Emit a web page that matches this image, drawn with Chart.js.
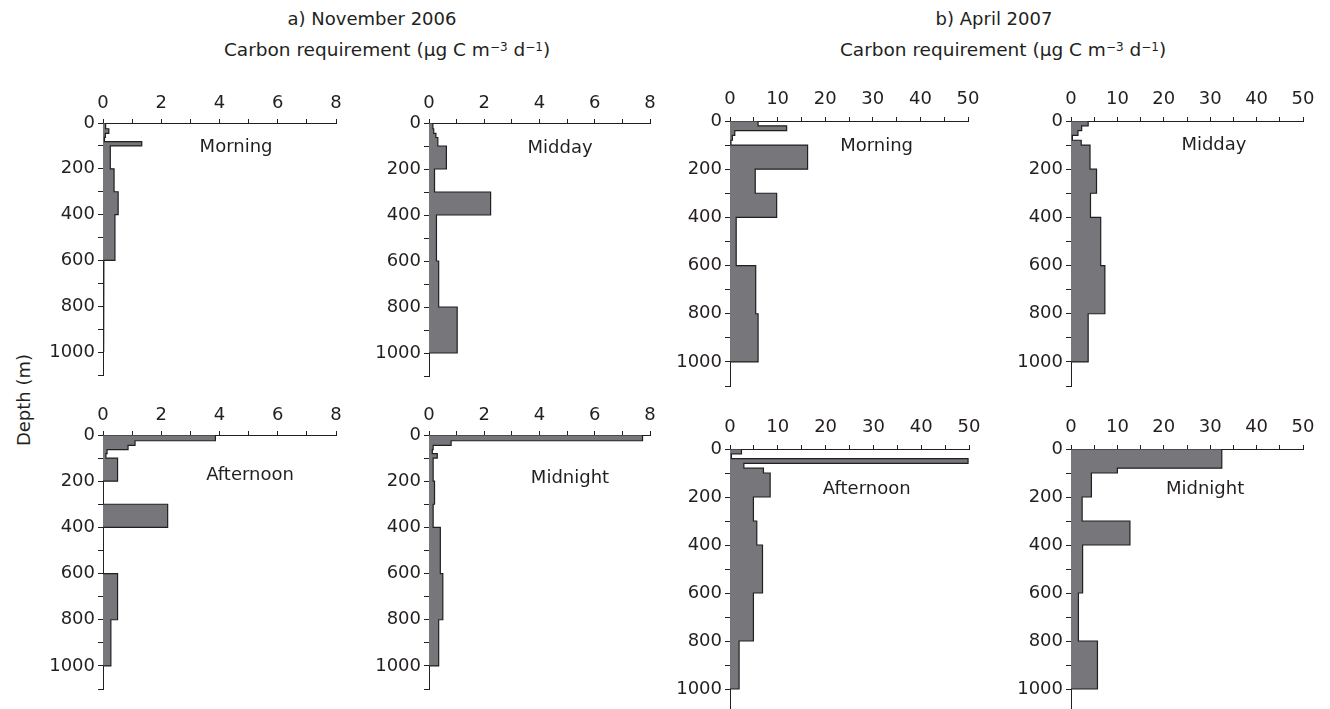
<!DOCTYPE html>
<html>
<head>
<meta charset="utf-8">
<title>Carbon requirement profiles</title>
<script src="https://cdn.jsdelivr.net/npm/chart.js@4.4.1/dist/chart.umd.min.js"></script>
<style>
  html, body {
    margin: 0; padding: 0; background: #fff;
    width: 1330px; height: 709px; overflow: hidden; position: relative;
    font-family: "DejaVu Sans", sans-serif; color: #231f20;
  }
  canvas.panel { position: absolute; }
  .title {
    position: absolute; font-size: 18px; white-space: nowrap;
    transform: translate(-50%, -50%); line-height: 1;
  }
  .title.unit { font-size: 18.5px; }
  .title sup { font-size: 12px; position: relative; top: -0.45em; vertical-align: baseline; line-height: 0; }
  #depth-label {
    position: absolute; left: 24px; top: 400px; font-size: 18px; white-space: nowrap;
    transform: translate(-50%, -50%) rotate(-90deg); line-height: 1;
  }
</style>
</head>
<body>
<div class="title" style="left:372px;top:19px;">a) November 2006</div>
<div class="title unit" style="left:387px;top:50px;">Carbon requirement (µg C m<sup>−3</sup> d<sup>−1</sup>)</div>
<div class="title" style="left:994px;top:19px;">b) April 2007</div>
<div class="title unit" style="left:1003px;top:50px;">Carbon requirement (µg C m<sup>−3</sup> d<sup>−1</sup>)</div>
<div id="depth-label">Depth (m)</div>

<canvas class="panel" id="nov-morning"></canvas>
<canvas class="panel" id="nov-midday"></canvas>
<canvas class="panel" id="nov-afternoon"></canvas>
<canvas class="panel" id="nov-midnight"></canvas>
<canvas class="panel" id="apr-morning"></canvas>
<canvas class="panel" id="apr-midday"></canvas>
<canvas class="panel" id="apr-afternoon"></canvas>
<canvas class="panel" id="apr-midnight"></canvas>

<script>
// Depth layer boundaries (m) for each cruise
const novDepthEdges = [0, 25, 45, 63, 81, 100, 200, 300, 400, 600, 800, 1000];
const aprDepthEdges = [0, 20, 40, 60, 80, 100, 200, 300, 400, 600, 800, 1000];

// Carbon requirement per layer (µg C m-3 d-1), November 2006
const novMorning   = [0.09, 0.20, 0.08, 0.05, 1.33, 0.25, 0.38, 0.52, 0.41, 0.03, 0.03];
const novMidday    = [0.14, 0.17, 0.25, 0.32, 0.32, 0.63, 0.20, 2.23, 0.27, 0.35, 1.02];
const novAfternoon = [3.86, 1.10, 0.86, 0.14, 0.10, 0.50, 0.01, 2.22, 0.01, 0.50, 0.27];
const novMidnight  = [7.73, 0.80, 0.15, 0.12, 0.30, 0.15, 0.20, 0.15, 0.41, 0.50, 0.35];

// Carbon requirement per layer (µg C m-3 d-1), April 2007
const aprMorning   = [5.9, 11.9, 1.0, 0.5, 0.2, 16.3, 5.3, 9.8, 1.3, 5.4, 5.9];
const aprMidday    = [3.7, 2.3, 1.5, 0.3, 2.2, 4.1, 5.5, 4.2, 6.4, 7.3, 3.7];
const aprAfternoon = [2.4, 0.3, 49.8, 2.9, 7.0, 8.4, 4.9, 5.6, 6.8, 4.9, 1.9];
const aprMidnight  = [32.5, 32.5, 32.5, 32.5, 10.0, 4.4, 2.4, 12.7, 2.5, 1.6, 5.7];

// Tick labels
const novCarbonTicks = [0, 2, 4, 6, 8];
const aprCarbonTicks = [0, 10, 20, 30, 40, 50];
const depthTicks = [0, 200, 400, 600, 800, 1000];
const depthAxisMax = 1100;
const depthMinorStep = 100;

const periodNames = ['Morning', 'Midday', 'Afternoon', 'Midnight'];

const INK = '#231f20';
const FILL = '#77767b';
const FONT = { family: '"DejaVu Sans", sans-serif', size: 18 };

// Axis box sizes and panel placement (plot area in page pixels)
const Y_AXIS_W = 60, X_AXIS_H = 40, PAD_R = 22, PAD_B = 14;
const layout = {
  'nov-morning':   { left: 103,  top: 123, width: 233, height: 252, fx: 0.571, fy: 0.095 },
  'nov-midday':    { left: 429,  top: 123, width: 221, height: 253, fx: 0.593, fy: 0.099 },
  'nov-afternoon': { left: 103,  top: 435, width: 233, height: 254, fx: 0.631, fy: 0.157 },
  'nov-midnight':  { left: 429,  top: 435, width: 221, height: 254, fx: 0.638, fy: 0.169 },
  'apr-morning':   { left: 730,  top: 121, width: 238, height: 265, fx: 0.616, fy: 0.094 },
  'apr-midday':    { left: 1071, top: 121, width: 232, height: 265, fx: 0.616, fy: 0.092 },
  'apr-afternoon': { left: 730,  top: 449, width: 239, height: 264, fx: 0.572, fy: 0.152 },
  'apr-midnight':  { left: 1071, top: 449, width: 232, height: 264, fx: 0.578, fy: 0.152 }
};

const panels = [
  { id: 'nov-morning',   values: novMorning,   edges: novDepthEdges, ticks: novCarbonTicks, name: periodNames[0], pad: 5 },
  { id: 'nov-midday',    values: novMidday,    edges: novDepthEdges, ticks: novCarbonTicks, name: periodNames[1], pad: 5 },
  { id: 'nov-afternoon', values: novAfternoon, edges: novDepthEdges, ticks: novCarbonTicks, name: periodNames[2], pad: 5 },
  { id: 'nov-midnight',  values: novMidnight,  edges: novDepthEdges, ticks: novCarbonTicks, name: periodNames[3], pad: 5 },
  { id: 'apr-morning',   values: aprMorning,   edges: aprDepthEdges, ticks: aprCarbonTicks, name: periodNames[0], pad: 7 },
  { id: 'apr-midday',    values: aprMidday,    edges: aprDepthEdges, ticks: aprCarbonTicks, name: periodNames[1], pad: 7 },
  { id: 'apr-afternoon', values: aprAfternoon, edges: aprDepthEdges, ticks: aprCarbonTicks, name: periodNames[2], pad: 7 },
  { id: 'apr-midnight',  values: aprMidnight,  edges: aprDepthEdges, ticks: aprCarbonTicks, name: periodNames[3], pad: 7 }
];

// Step outline of a layered profile: each layer is a block from its top to its bottom depth
function profilePoints(edges, values) {
  const pts = [{ x: 0, y: edges[0] }];
  values.forEach((v, i) => {
    pts.push({ x: v, y: edges[i] }, { x: v, y: edges[i + 1] });
  });
  pts.push({ x: 0, y: edges[edges.length - 1] });
  return pts;
}

// Draws the time-of-day name inside the plot area
const panelLabelPlugin = {
  id: 'panelLabel',
  afterDraw(chart, args, opts) {
    const { ctx, chartArea: a } = chart;
    ctx.save();
    ctx.font = `${FONT.size}px ${FONT.family}`;
    ctx.fillStyle = INK;
    ctx.textAlign = 'center';
    ctx.textBaseline = 'middle';
    ctx.fillText(opts.text, a.left + opts.fx * (a.right - a.left), a.top + opts.fy * (a.bottom - a.top));
    ctx.restore();
  }
};

panels.forEach(p => {
  const box = layout[p.id];
  const canvas = document.getElementById(p.id);
  const w = Y_AXIS_W + box.width + PAD_R;
  const h = X_AXIS_H + box.height + PAD_B;
  canvas.width = w; canvas.height = h;
  canvas.style.width = w + 'px'; canvas.style.height = h + 'px';
  canvas.style.left = (box.left - Y_AXIS_W) + 'px';
  canvas.style.top = (box.top - X_AXIS_H) + 'px';

  const labelStep = p.ticks[1] - p.ticks[0];
  const xMax = p.ticks[p.ticks.length - 1];

  new Chart(canvas.getContext('2d'), {
    type: 'line',
    data: {
      datasets: [{
        data: profilePoints(p.edges, p.values),
        borderColor: INK,
        borderWidth: 1.2,
        backgroundColor: FILL,
        fill: 'origin',
        pointRadius: 0,
        tension: 0
      }]
    },
    options: {
      indexAxis: 'y',
      responsive: false,
      maintainAspectRatio: false,
      animation: false,
      layout: { padding: { top: 0, left: 0, right: PAD_R, bottom: PAD_B } },
      plugins: {
        legend: { display: false },
        tooltip: { enabled: false },
        panelLabel: { text: p.name, fx: box.fx, fy: box.fy }
      },
      scales: {
        x: {
          type: 'linear',
          position: 'top',
          min: p.ticks[0],
          max: xMax,
          ticks: {
            stepSize: labelStep / 2,
            autoSkip: false,
            maxRotation: 0,
            padding: p.pad,
            color: INK,
            font: FONT,
            callback: v => (p.ticks.includes(v) ? String(v) : '')
          },
          grid: { display: true, drawOnChartArea: false, drawTicks: true, tickLength: 4, color: INK, lineWidth: 1 },
          border: { display: true, color: INK, width: 1 },
          afterFit: s => { s.height = X_AXIS_H; }
        },
        y: {
          type: 'linear',
          reverse: true,
          min: 0,
          max: depthAxisMax,
          ticks: {
            stepSize: depthMinorStep,
            autoSkip: false,
            padding: 3,
            color: INK,
            font: FONT,
            callback: v => (depthTicks.includes(v) ? String(v) : '')
          },
          grid: { display: true, drawOnChartArea: false, drawTicks: true, tickLength: 5, color: INK, lineWidth: 1 },
          border: { display: true, color: INK, width: 1 },
          afterFit: s => { s.width = Y_AXIS_W; }
        }
      }
    },
    plugins: [panelLabelPlugin]
  });
});
</script>
</body>
</html>
